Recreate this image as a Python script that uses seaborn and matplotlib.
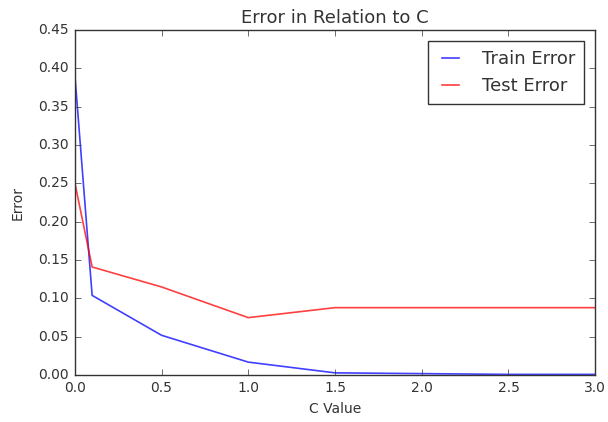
import matplotlib
matplotlib.use("Agg")
import matplotlib.pyplot as plt
import seaborn as sns
import pandas as pd

c_values = [0.001, 0.1, 0.5, 1.0, 1.5, 2.0, 2.5, 3.0]
train_error = [0.39, 0.104, 0.052, 0.017, 0.003, 0.002, 0.001, 0.001]
test_error = [0.25, 0.141, 0.115, 0.075, 0.088, 0.088, 0.088, 0.088]

plt.style.use("classic")
plt.rcParams["font.family"] = ["DejaVu Sans"]
plt.rcParams["text.color"] = "#333333"
plt.rcParams["xtick.color"] = "#333333"
plt.rcParams["ytick.color"] = "#333333"
plt.rcParams["axes.labelcolor"] = "#333333"
plt.rcParams["axes.edgecolor"] = "#333333"

fig = plt.figure(figsize=(6.08, 4.22), dpi=100, facecolor="white")
ax = fig.add_axes([0.123, 0.111, 0.856, 0.818])

df = pd.DataFrame({"C": c_values + c_values,
                   "Error": train_error + test_error,
                   "Series": ["Train Error"] * len(c_values) + ["Test Error"] * len(c_values)})
sns.lineplot(data=df, x="C", y="Error", hue="Series",
             palette={"Train Error": "blue", "Test Error": "red"},
             ax=ax, alpha=0.75, linewidth=1.2)

ax.set_xlim(0, 3.0)
ax.set_ylim(0, 0.45)
ax.set_xticks([0.0, 0.5, 1.0, 1.5, 2.0, 2.5, 3.0])
ax.set_yticks([0.0, 0.05, 0.10, 0.15, 0.20, 0.25, 0.30, 0.35, 0.40, 0.45])
ax.tick_params(labelsize=10)
ax.set_title("Error in Relation to C", fontsize=13)
ax.set_xlabel("C Value", fontsize=10)
ax.set_ylabel("Error", fontsize=10, labelpad=10)
ax.legend(loc="upper right", fontsize=13, frameon=True,
          handlelength=1.5, handletextpad=1.0, borderpad=0.5,
          labelspacing=0.5, borderaxespad=0.6)

fig.savefig("out.png", dpi=100, facecolor="white")
